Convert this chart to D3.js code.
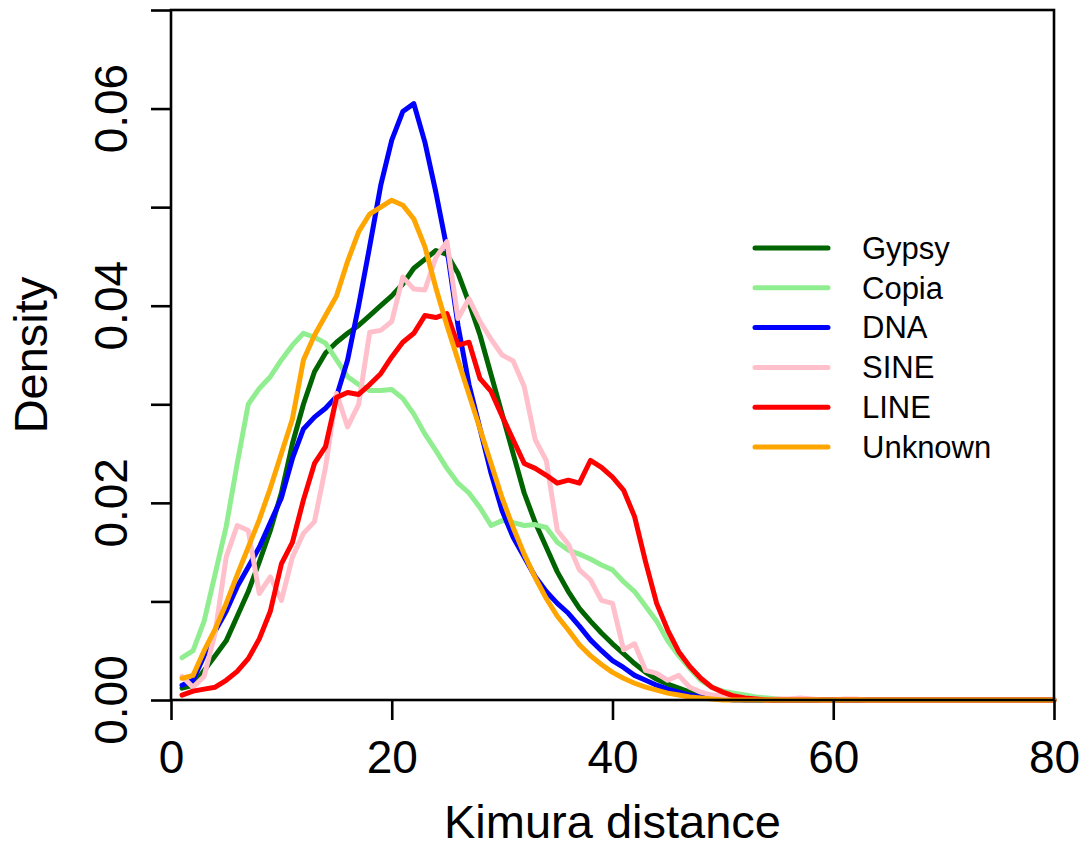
<!DOCTYPE html>
<html lang="en">
<head>
    <meta charset="UTF-8">
    <title>Kimura distance density</title>
    <script src="https://d3js.org/d3.v7.min.js"></script>
    <style>
        body{
            padding:0;
            margin:0;
            background:#fff;
        }
        #misvg{
            display:block;
        }
        text{
            font-family:"Liberation Sans", Arial, Helvetica, sans-serif;
            fill:#000;
        }
    </style>
</head>
<body>

<svg id="misvg"></svg>

<script>

    // distancia de Kimura (eje x), un punto por unidad
    let distancias = d3.range(1, 81)

    let gypsy = [
        0.0012, 0.0015, 0.003, 0.0045, 0.006, 0.0085, 0.011, 0.014, 0.0172, 0.021,
        0.026, 0.030, 0.0333, 0.0352, 0.0363, 0.0372, 0.038, 0.039, 0.040, 0.041,
        0.0422, 0.0438, 0.0447, 0.0456, 0.0452, 0.0433, 0.0403, 0.037, 0.033, 0.029,
        0.025, 0.021, 0.018, 0.0155, 0.013, 0.011, 0.0093, 0.008, 0.0068, 0.0057,
        0.0047, 0.0037, 0.0028, 0.0021, 0.0016, 0.0012, 0.0008, 0.0005, 0.0003, 0.0002,
        0.0001, 0, 0, 0, 0, 0, 0, 0, 0, 0,
        0, 0, 0, 0, 0, 0, 0, 0, 0, 0,
        0, 0, 0, 0, 0, 0, 0, 0, 0, 0]

    let copia = [
        0.0043, 0.005, 0.008, 0.0128, 0.0176, 0.024, 0.030, 0.0316, 0.0328, 0.0345,
        0.036, 0.0372, 0.0368, 0.0362, 0.0345, 0.0328, 0.032, 0.0314, 0.0314, 0.0315,
        0.0306, 0.029, 0.027, 0.0253, 0.0235, 0.022, 0.021, 0.0195, 0.0177, 0.0182,
        0.018, 0.0177, 0.0178, 0.0175, 0.016, 0.0152, 0.0148, 0.0143, 0.0137, 0.0132,
        0.012, 0.011, 0.0095, 0.008, 0.006, 0.0045, 0.0032, 0.002, 0.0013, 0.0009,
        0.0007, 0.0005, 0.0003, 0.0002, 0.0001, 0, 0, 0, 0, 0,
        0, 0, 0, 0, 0, 0, 0, 0, 0, 0,
        0, 0, 0, 0, 0, 0, 0, 0, 0, 0]

    let dna = [
        0.0015, 0.002, 0.0045, 0.007, 0.009, 0.0115, 0.0135, 0.0155, 0.018, 0.0205,
        0.0245, 0.0275, 0.0287, 0.0296, 0.0308, 0.0345, 0.040, 0.046, 0.0522, 0.0568,
        0.0597, 0.0605, 0.0566, 0.0515, 0.0458, 0.038, 0.032, 0.0275, 0.023, 0.0192,
        0.0165, 0.0145, 0.0125, 0.011, 0.0098, 0.0088, 0.0075, 0.0061, 0.005, 0.004,
        0.0033, 0.0025, 0.002, 0.0015, 0.0011, 0.0008, 0.0005, 0.0003, 0.0002, 0.0001,
        0, 0, 0, 0, 0, 0, 0, 0, 0, 0,
        0, 0, 0, 0, 0, 0, 0, 0, 0, 0,
        0, 0, 0, 0, 0, 0, 0, 0, 0, 0]

    let sine = [
        0.0024, 0.0013, 0.0024, 0.0068, 0.0145, 0.0177, 0.0172, 0.0108, 0.0125, 0.0101,
        0.0145, 0.0169, 0.0181, 0.0236, 0.0311, 0.0277, 0.030, 0.0373, 0.0375, 0.0384,
        0.0429, 0.0417, 0.0416, 0.0449, 0.0465, 0.0387, 0.0407, 0.0384, 0.0366, 0.035,
        0.0344, 0.0318, 0.0264, 0.0243, 0.0172, 0.0158, 0.0132, 0.0122, 0.0101, 0.0098,
        0.0051, 0.0057, 0.003, 0.0027, 0.002, 0.0025, 0.0013, 0.0008, 0.0005, 0.0004,
        0.0002, 0.0001, 0.0001, 0, 0.0001, 0.0001, 0.0002, 0.0001, 0, 0,
        0.0001, 0.0001, 0, 0, 0, 0, 0, 0, 0, 0,
        0, 0, 0, 0, 0, 0, 0, 0, 0, 0]

    let line = [
        0.0005, 0.0009, 0.0011, 0.0013, 0.002, 0.0029, 0.0042, 0.0062, 0.009, 0.0138,
        0.016, 0.0203, 0.024, 0.0257, 0.0307, 0.0312, 0.031, 0.032, 0.0331, 0.0348,
        0.0363, 0.0372, 0.039, 0.0388, 0.0392, 0.036, 0.0363, 0.0326, 0.0313, 0.0288,
        0.0264, 0.024, 0.0235, 0.0228, 0.022, 0.0223, 0.022, 0.0243, 0.0236, 0.0226,
        0.0213, 0.0186, 0.014, 0.0098, 0.0071, 0.0049, 0.0034, 0.0022, 0.0013, 0.0008,
        0.0004, 0.0002, 0.0001, 0, 0, 0, 0, 0, 0, 0,
        0, 0, 0, 0, 0, 0, 0, 0, 0, 0,
        0, 0, 0, 0, 0, 0, 0, 0, 0, 0]

    let unknown = [
        0.0022, 0.0025, 0.005, 0.0072, 0.0098, 0.0127, 0.0155, 0.0183, 0.0215, 0.025,
        0.0285, 0.0345, 0.037, 0.039, 0.041, 0.0445, 0.0475, 0.0493, 0.050, 0.0507,
        0.0502, 0.0488, 0.046, 0.0418, 0.038, 0.0345, 0.031, 0.0275, 0.024, 0.0205,
        0.0175, 0.0148, 0.0124, 0.0103, 0.0085, 0.0071, 0.0056, 0.0045, 0.0036, 0.0028,
        0.0022, 0.0017, 0.0013, 0.001, 0.0007, 0.0005, 0.0003, 0.0002, 0.0001, 0,
        0, 0, 0, 0, 0, 0, 0, 0, 0, 0,
        0, 0, 0, 0, 0, 0, 0, 0, 0, 0,
        0, 0, 0, 0, 0, 0, 0, 0, 0, 0]

    let nombres = ["Gypsy", "Copia", "DNA", "SINE", "LINE", "Unknown"]
    let colores = ["darkgreen", "lightgreen", "blue", "pink", "red", "orange"]
    let series = [gypsy, copia, dna, sine, line, unknown]

    let ticksX = [0, 20, 40, 60, 80]
    let ticksY = [0, 0.01, 0.02, 0.03, 0.04, 0.05, 0.06, 0.07]
    let etiquetasY = ["0.00", "", "0.02", "", "0.04", "", "0.06", ""]

    let svgw = 1083
    let svgh = 850
    let margen = {izq:171, der:29, sup:10, inf:150}

    let svg = d3.select("#misvg")
            .attr('width', svgw)
            .attr('height', svgh)

    let escalaX = d3.scaleLinear()
                    .domain([0, 80])
                    .range([margen.izq, svgw-margen.der])

    let escalaY = d3.scaleLinear()
                    .domain([0, 0.07])
                    .range([svgh-margen.inf, margen.sup])

    let grosor = 2.6

    // curvas
    let linea = d3.line()
        .x((d, i) => escalaX(distancias[i]))
        .y(d => escalaY(d))

    svg.append('g')
        .selectAll('path')
        .data(series)
        .enter().append('path')
        .attr('d', d => linea(d))
        .attr('fill', 'none')
        .attr('stroke', (d, i) => colores[i])
        .attr('stroke-width', 5)
        .attr('stroke-linejoin', 'round')
        .attr('stroke-linecap', 'round')

    // eje x
    let ejeX = svg.append('g')
        .attr('transform', `translate(0,${escalaY(0)})`)
        .call(d3.axisBottom(escalaX)
            .tickValues(ticksX)
            .tickSize(20)
            .tickPadding(20)
            .tickFormat(d3.format('d')))
    ejeX.select('.domain').remove()
    ejeX.selectAll('line').attr('stroke', '#000').attr('stroke-width', grosor)
    ejeX.selectAll('text')
        .style('font-size', '46px')
        .style('font-family', '"Liberation Sans", Arial, Helvetica, sans-serif')

    // eje y
    let ejeY = svg.append('g')
        .attr('transform', `translate(${escalaX(0)},0)`)
        .call(d3.axisLeft(escalaY)
            .tickValues(ticksY)
            .tickSize(20)
            .tickFormat(''))
    ejeY.select('.domain').remove()
    ejeY.selectAll('line').attr('stroke', '#000').attr('stroke-width', grosor)

    svg.append('g')
        .selectAll('text')
        .data(ticksY)
        .enter().append('text')
        .attr('transform', d => `translate(127,${escalaY(d)}) rotate(-90)`)
        .attr('text-anchor', 'middle')
        .style('font-size', '46px')
        .text((d, i) => etiquetasY[i])

    // caja
    svg.append('rect')
        .attr('x', escalaX(0))
        .attr('y', escalaY(0.07))
        .attr('width', escalaX(80)-escalaX(0))
        .attr('height', escalaY(0)-escalaY(0.07))
        .attr('fill', 'none')
        .attr('stroke', '#000')
        .attr('stroke-width', grosor)

    // titulos
    svg.append('text')
        .attr('x', (escalaX(0)+escalaX(80))/2)
        .attr('y', 838)
        .attr('text-anchor', 'middle')
        .style('font-size', '47px')
        .text('Kimura distance')

    svg.append('text')
        .attr('transform', `translate(47,${(escalaY(0)+escalaY(0.07))/2}) rotate(-90)`)
        .attr('text-anchor', 'middle')
        .style('font-size', '47px')
        .text('Density')

    // leyenda
    let leyenda = svg.append('g')
        .attr('transform', 'translate(755,248)')

    let filas = leyenda.selectAll('g')
        .data(nombres)
        .enter().append('g')
        .attr('transform', (d, i) => `translate(0,${i*39.8})`)

    filas.append('line')
        .attr('x1', 0)
        .attr('x2', 73)
        .attr('stroke', (d, i) => colores[i])
        .attr('stroke-width', 5)
        .attr('stroke-linecap', 'round')

    filas.append('text')
        .attr('x', 107)
        .attr('dy', '0.35em')
        .style('font-size', '31px')
        .text(d => d)

</script>

</body>
</html>
